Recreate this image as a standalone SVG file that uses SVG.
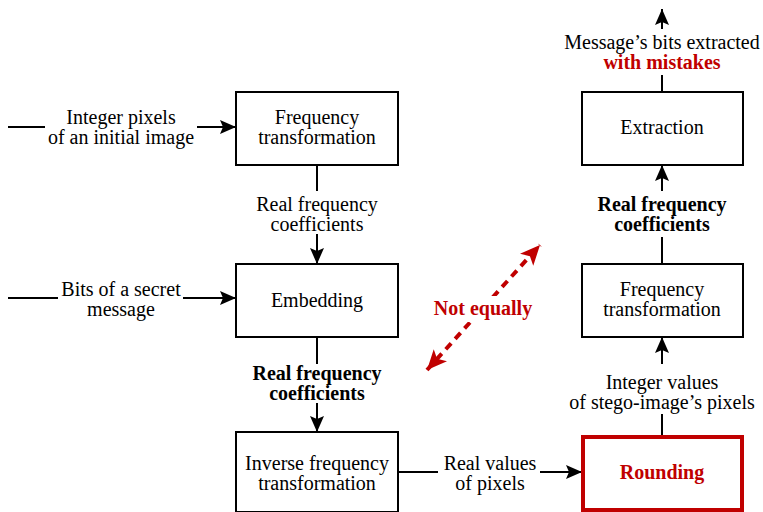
<svg xmlns="http://www.w3.org/2000/svg" width="763" height="512" viewBox="0 0 763 512">
<defs>
<marker id="ahb" viewBox="0 0 16 14" refX="16" refY="7" markerWidth="16" markerHeight="14" markerUnits="userSpaceOnUse" orient="auto"><path d="M0,0 L16,7 L0,14 L3,7 Z" fill="#000"/></marker>
<marker id="ahr" viewBox="0 0 20 18" refX="20" refY="9" markerWidth="20" markerHeight="18" markerUnits="userSpaceOnUse" orient="auto-start-reverse"><path d="M0,0 L20,9 L0,18 L5,9 Z" fill="#C00000"/></marker>
</defs>
<style>
text{font-family:"Liberation Serif","Times New Roman",serif;font-size:20px;fill:#000;text-anchor:middle}
.b{font-weight:bold}
.r{fill:#C00000}
.box{fill:#fff;stroke:#000;stroke-width:2}
.rbox{fill:#fff;stroke:#C00000;stroke-width:4}
.ln{fill:none;stroke:#000;stroke-width:2}
</style>
<g id="connectors">
<line class="ln" x1="8" y1="127" x2="45" y2="127"/>
<line class="ln" x1="197" y1="127" x2="236" y2="127" marker-end="url(#ahb)"/>
<line class="ln" x1="8" y1="298" x2="58" y2="298"/>
<line class="ln" x1="183" y1="298" x2="236" y2="298" marker-end="url(#ahb)"/>
<line class="ln" x1="317" y1="165" x2="317" y2="191"/>
<line class="ln" x1="317" y1="234" x2="317" y2="264" marker-end="url(#ahb)"/>
<line class="ln" x1="317" y1="337" x2="317" y2="364"/>
<line class="ln" x1="317" y1="403" x2="317" y2="432" marker-end="url(#ahb)"/>
<line class="ln" x1="398" y1="472" x2="438" y2="472"/>
<line class="ln" x1="540" y1="472" x2="582" y2="472" marker-end="url(#ahb)"/>
<line class="ln" x1="662" y1="436" x2="662" y2="414"/>
<line class="ln" x1="662" y1="364" x2="662" y2="337" marker-end="url(#ahb)"/>
<line class="ln" x1="662" y1="264" x2="662" y2="237"/>
<line class="ln" x1="662" y1="191" x2="662" y2="165" marker-end="url(#ahb)"/>
<line class="ln" x1="662" y1="92" x2="662" y2="75"/>
<line class="ln" x1="662" y1="29" x2="662" y2="9" marker-end="url(#ahb)"/>
<line x1="427" y1="370" x2="540" y2="245" stroke="#C00000" stroke-width="4" stroke-dasharray="8,6" marker-start="url(#ahr)" marker-end="url(#ahr)"/>
</g>
<g id="label-input1"><text x="121" y="124">Integer pixels</text><text x="121" y="144">of an initial image</text></g>
<g id="label-input2"><text x="121" y="296">Bits of a secret</text><text x="121" y="316">message</text></g>
<g id="label-rfc1"><text x="317" y="211">Real frequency</text><text x="317" y="231">coefficients</text></g>
<g id="label-rfc2"><text class="b" x="317" y="380">Real frequency</text><text class="b" x="317" y="400">coefficients</text></g>
<g id="label-real"><text x="490" y="470">Real values</text><text x="490" y="490">of pixels</text></g>
<g id="label-int"><text x="662" y="389">Integer values</text><text x="662" y="409">of stego-image’s pixels</text></g>
<g id="label-rfc3"><text class="b" x="662" y="211">Real frequency</text><text class="b" x="662" y="231">coefficients</text></g>
<g id="label-out"><text x="662" y="49">Message’s bits extracted</text><text class="b r" x="662" y="69">with mistakes</text></g>
<g id="label-ne"><rect x="430" y="296" width="106" height="26" fill="#fff"/><text class="b r" x="483" y="315">Not equally</text></g>
<g id="node-ft1"><rect class="box" x="236" y="92" width="162" height="73"/><text x="317" y="124">Frequency</text><text x="317" y="144">transformation</text></g>
<g id="node-emb"><rect class="box" x="236" y="264" width="162" height="73"/><text x="317" y="307">Embedding</text></g>
<g id="node-ift"><rect class="box" x="236" y="432" width="162" height="80"/><text x="317" y="470">Inverse frequency</text><text x="317" y="490">transformation</text></g>
<g id="node-ext"><rect class="box" x="582" y="92" width="161" height="73"/><text x="662" y="134">Extraction</text></g>
<g id="node-ft2"><rect class="box" x="582" y="264" width="161" height="73"/><text x="662" y="296">Frequency</text><text x="662" y="316">transformation</text></g>
<g id="node-round"><rect class="rbox" x="583" y="437" width="159" height="73"/><text class="b r" x="662" y="479">Rounding</text></g>
</svg>
